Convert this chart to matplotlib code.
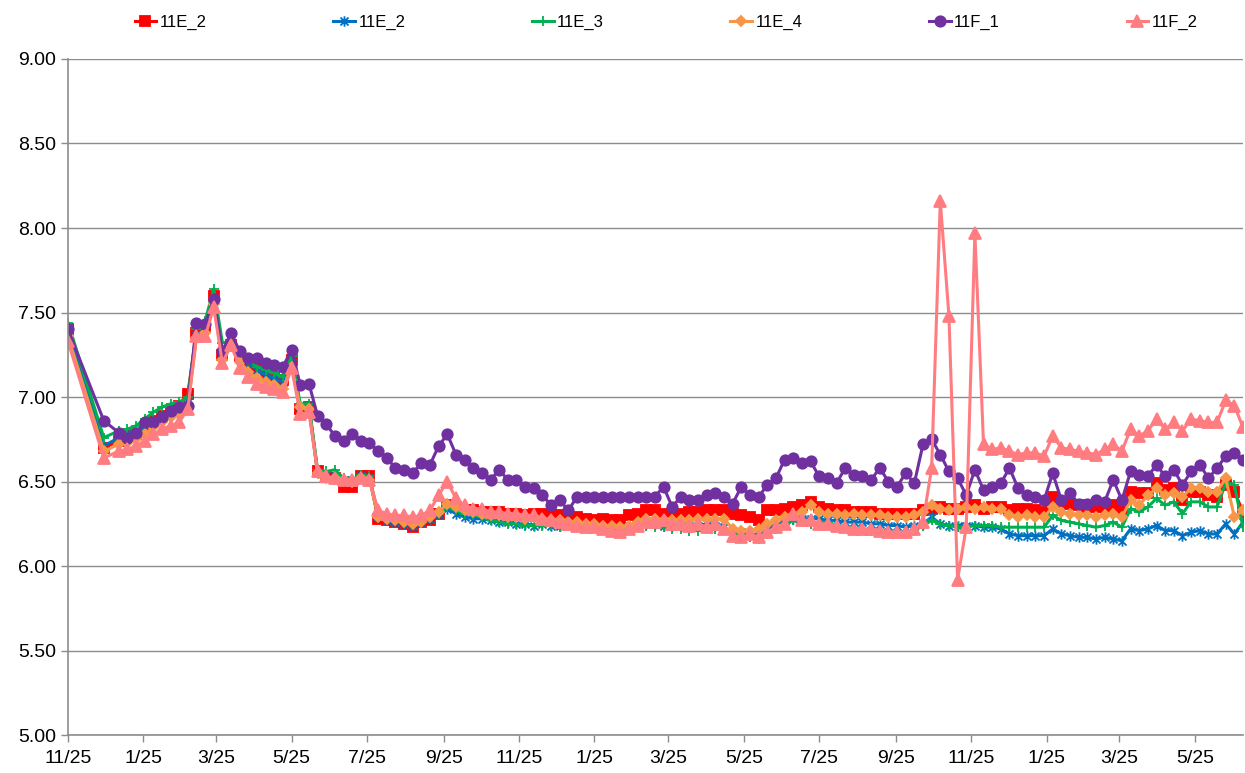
import numpy as np
import pandas as pd
import matplotlib
matplotlib.use('agg')
import matplotlib.pyplot as plt
from matplotlib.path import Path
from matplotlib.ticker import FormatStrFormatter

plt.rcParams['font.family'] = ['Liberation Sans', 'DejaVu Sans']

# sample dates: first two irregular, then weekly
dates = list(pd.to_datetime(['2010-11-25', '2010-12-24'])) + \
    list(pd.date_range('2011-01-05', periods=131, freq='7D'))

s_11e_2a = [7.40, 6.70, 6.74, 6.77, 6.78, 6.82, 6.86, 6.89, 6.92, 6.95, 7.02, 7.38, 7.42, 7.60, 7.25, 7.31, 7.24, 7.20, 7.17, 7.14, 7.12, 7.10, 7.22, 6.93, 6.94,
            6.56, 6.53, 6.52, 6.47, 6.47, 6.53, 6.53, 6.28, 6.27, 6.26, 6.25, 6.23, 6.26, 6.27, 6.31, 6.36, 6.35, 6.33, 6.33, 6.32,
            6.32, 6.32, 6.31, 6.31, 6.30, 6.31, 6.31, 6.30, 6.30, 6.29, 6.29, 6.28, 6.27, 6.28, 6.27, 6.27, 6.30, 6.31,
            6.33, 6.33, 6.31, 6.31, 6.31, 6.32, 6.32, 6.33, 6.33, 6.33, 6.31, 6.30, 6.29, 6.27, 6.33, 6.33, 6.34, 6.35, 6.36, 6.38, 6.35, 6.34,
            6.33, 6.33, 6.32, 6.32, 6.32, 6.31, 6.31, 6.31, 6.31, 6.31, 6.33, 6.34, 6.35, 6.34, 6.34, 6.35, 6.36, 6.34, 6.35, 6.35,
            6.33, 6.34, 6.34, 6.33, 6.32, 6.41, 6.38, 6.37, 6.36, 6.35, 6.35, 6.35, 6.36, 6.34, 6.44, 6.43, 6.43, 6.49, 6.45, 6.46, 6.39, 6.44, 6.44, 6.42, 6.41, 6.48, 6.44, 6.32]

s_11e_2b = [7.41, 6.71, 6.76, 6.78, 6.79, 6.82, 6.86, 6.89, 6.92, 6.94, 6.97, 7.37, 7.40, 7.58, 7.26, 7.30, 7.24, 7.20, 7.16, 7.13, 7.11, 7.09, 7.20, 6.95, 6.95,
            6.55, 6.53, 6.53, 6.51, 6.51, 6.53, 6.52, 6.29, 6.27, 6.26, 6.25, 6.24, 6.26, 6.28, 6.31, 6.34, 6.31, 6.29, 6.28, 6.28,
            6.27, 6.26, 6.26, 6.25, 6.25, 6.24, 6.25, 6.24, 6.24, 6.25, 6.24, 6.24, 6.24, 6.23, 6.23, 6.23, 6.24, 6.25,
            6.25, 6.25, 6.24, 6.24, 6.24, 6.24, 6.24, 6.25, 6.24, 6.23, 6.20, 6.20, 6.19, 6.18, 6.22, 6.25, 6.27, 6.28, 6.28, 6.28, 6.28, 6.27,
            6.27, 6.26, 6.26, 6.26, 6.25, 6.25, 6.24, 6.24, 6.23, 6.24, 6.25, 6.29, 6.25, 6.24, 6.24, 6.24, 6.24, 6.23, 6.23, 6.22,
            6.19, 6.18, 6.18, 6.18, 6.18, 6.22, 6.19, 6.18, 6.17, 6.17, 6.16, 6.17, 6.16, 6.15, 6.22, 6.21, 6.22, 6.24, 6.21, 6.21, 6.18, 6.20, 6.21, 6.19, 6.19, 6.25, 6.19, 6.26]

s_11e_3 = [7.44, 6.76, 6.80, 6.81, 6.83, 6.87, 6.91, 6.94, 6.96, 6.97, 7.00, 7.40, 7.45, 7.64, 7.32, 7.33, 7.26, 7.22, 7.18, 7.16, 7.14, 7.12, 7.24, 6.96, 6.96,
           6.57, 6.56, 6.57, 6.52, 6.51, 6.54, 6.53, 6.30, 6.28, 6.27, 6.26, 6.25, 6.27, 6.29, 6.31, 6.35, 6.33, 6.31, 6.30, 6.29,
           6.27, 6.26, 6.25, 6.25, 6.24, 6.24, 6.24, 6.24, 6.23, 6.24, 6.23, 6.23, 6.23, 6.23, 6.22, 6.23, 6.23, 6.24,
           6.24, 6.23, 6.23, 6.22, 6.22, 6.21, 6.21, 6.22, 6.22, 6.22, 6.19, 6.18, 6.17, 6.16, 6.19, 6.22, 6.25, 6.27, 6.26, 6.25, 6.26, 6.26,
           6.24, 6.23, 6.22, 6.22, 6.21, 6.21, 6.20, 6.20, 6.20, 6.21, 6.24, 6.27, 6.25, 6.24, 6.23, 6.23, 6.24, 6.24, 6.24, 6.23,
           6.23, 6.23, 6.23, 6.23, 6.23, 6.30, 6.27, 6.26, 6.25, 6.24, 6.23, 6.24, 6.26, 6.23, 6.34, 6.32, 6.35, 6.40, 6.36, 6.38, 6.31, 6.38, 6.38, 6.35, 6.35, 6.49, 6.48, 6.23]

s_11e_4 = [7.36, 6.68, 6.72, 6.73, 6.75, 6.78, 6.82, 6.85, 6.88, 6.90, 6.94, 7.35, 7.38, 7.55, 7.22, 7.30, 7.21, 7.15, 7.11, 7.09, 7.07, 7.05, 7.18, 6.94, 6.93,
           6.55, 6.52, 6.52, 6.51, 6.50, 6.52, 6.51, 6.29, 6.28, 6.27, 6.26, 6.25, 6.26, 6.29, 6.32, 6.37, 6.35, 6.33, 6.32, 6.31,
           6.30, 6.30, 6.29, 6.29, 6.28, 6.29, 6.28, 6.27, 6.27, 6.26, 6.26, 6.25, 6.25, 6.24, 6.24, 6.23, 6.24, 6.26,
           6.28, 6.28, 6.27, 6.27, 6.27, 6.27, 6.28, 6.28, 6.28, 6.28, 6.22, 6.21, 6.21, 6.22, 6.25, 6.27, 6.29, 6.30, 6.32, 6.36, 6.32, 6.31,
           6.31, 6.30, 6.31, 6.30, 6.30, 6.30, 6.29, 6.29, 6.29, 6.30, 6.32, 6.36, 6.34, 6.33, 6.34, 6.35, 6.34, 6.35, 6.34, 6.34,
           6.30, 6.29, 6.30, 6.29, 6.29, 6.35, 6.32, 6.31, 6.30, 6.30, 6.29, 6.30, 6.31, 6.29, 6.39, 6.36, 6.42, 6.46, 6.42, 6.43, 6.41, 6.46, 6.46, 6.44, 6.44, 6.52, 6.29, 6.33]

s_11f_1 = [7.40, 6.86, 6.79, 6.76, 6.79, 6.85, 6.85, 6.88, 6.92, 6.94, 6.95, 7.44, 7.43, 7.58, 7.27, 7.38, 7.27, 7.23, 7.23, 7.20, 7.19, 7.18, 7.28, 7.07, 7.08,
           6.89, 6.84, 6.77, 6.74, 6.78, 6.74, 6.73, 6.68, 6.64, 6.58, 6.57, 6.55, 6.61, 6.60, 6.71, 6.78, 6.66, 6.63, 6.58, 6.55,
           6.51, 6.57, 6.51, 6.51, 6.47, 6.46, 6.42, 6.36, 6.39, 6.33, 6.41, 6.41, 6.41, 6.41, 6.41, 6.41, 6.41, 6.41,
           6.41, 6.41, 6.47, 6.35, 6.41, 6.39, 6.39, 6.42, 6.43, 6.41, 6.37, 6.47, 6.42, 6.41, 6.48, 6.52, 6.63, 6.64, 6.61, 6.62, 6.53, 6.52,
           6.49, 6.58, 6.54, 6.53, 6.51, 6.58, 6.50, 6.47, 6.55, 6.49, 6.72, 6.75, 6.66, 6.56, 6.52, 6.42, 6.57, 6.45, 6.47, 6.49,
           6.58, 6.46, 6.42, 6.41, 6.39, 6.55, 6.39, 6.43, 6.37, 6.37, 6.39, 6.38, 6.51, 6.39, 6.56, 6.54, 6.53, 6.60, 6.53, 6.57, 6.48, 6.56, 6.60, 6.52, 6.58, 6.65, 6.67, 6.63]

s_11f_2 = [7.33, 6.64, 6.68, 6.69, 6.71, 6.74, 6.78, 6.81, 6.83, 6.85, 6.93, 7.36, 7.36, 7.53, 7.20, 7.31, 7.17, 7.12, 7.08, 7.06, 7.05, 7.03, 7.17, 6.90, 6.91,
           6.56, 6.53, 6.52, 6.51, 6.51, 6.52, 6.51, 6.33, 6.31, 6.30, 6.30, 6.29, 6.30, 6.33, 6.42, 6.50, 6.40, 6.36, 6.34, 6.34,
           6.32, 6.32, 6.31, 6.31, 6.30, 6.30, 6.28, 6.27, 6.26, 6.25, 6.24, 6.23, 6.23, 6.22, 6.21, 6.20, 6.22, 6.24,
           6.26, 6.26, 6.27, 6.25, 6.25, 6.24, 6.25, 6.23, 6.25, 6.22, 6.18, 6.17, 6.19, 6.17, 6.20, 6.23, 6.25, 6.31, 6.27, 6.27, 6.25, 6.25,
           6.24, 6.23, 6.22, 6.22, 6.22, 6.21, 6.20, 6.20, 6.20, 6.22, 6.26, 6.58, 8.16, 7.48, 5.92, 6.23, 7.97, 6.72, 6.69, 6.70,
           6.68, 6.66, 6.67, 6.67, 6.65, 6.77, 6.70, 6.69, 6.68, 6.67, 6.66, 6.69, 6.72, 6.68, 6.81, 6.77, 6.80, 6.87, 6.81, 6.85, 6.80, 6.87, 6.86, 6.85, 6.85, 6.98, 6.95, 6.82]

labels = ['11E_2', '11E_2', '11E_3', '11E_4', '11F_1', '11F_2']
colors = ['#FF0000', '#0070C0', '#00B050', '#F79646', '#7030A0', '#FF7C80']

# excel style "star" marker: x with a vertical bar
star = Path([(-1, -1), (1, 1), (-1, 1), (1, -1), (0, -1.3), (0, 1.3)],
            [Path.MOVETO, Path.LINETO, Path.MOVETO, Path.LINETO, Path.MOVETO, Path.LINETO])
markers = ['s', star, '+', 'D', 'o', '^']
msizes = [6.5, 7.5, 7, 5, 7.5, 8]

fig = plt.figure(figsize=(12.45, 7.73), dpi=100)
ax = fig.add_axes([0.0546, 0.049, 0.9438, 0.8747])

series = [s_11e_2a, s_11e_2b, s_11e_3, s_11e_4, s_11f_1, s_11f_2]
for vals, lab, col, mk, ms in zip(series, labels, colors, markers, msizes):
    ax.plot(dates, vals, color=col, lw=2.2, marker=mk, ms=ms, mew=1.3,
            mfc=col, mec=col, label=lab)

ax.set_ylim(5.0, 9.0)
ax.set_yticks(np.arange(5.0, 9.01, 0.5))
ax.yaxis.set_major_formatter(FormatStrFormatter('%.2f'))
ax.set_xlim(dates[0], dates[-1])
ticks = pd.date_range('2010-11-25', periods=16, freq=pd.DateOffset(months=2))
ax.set_xticks(ticks)
ax.set_xticklabels([f"{d.month}/{d.day}" for d in ticks])

ax.yaxis.grid(True, color='#8c8c8c', lw=1)
ax.set_axisbelow(True)
for s in ['top', 'right']:
    ax.spines[s].set_visible(False)
for s in ['left', 'bottom']:
    ax.spines[s].set_color('#8c8c8c')
    ax.spines[s].set_linewidth(1.2)
ax.tick_params(axis='both', colors='#8c8c8c', labelcolor='black',
               labelsize=14, length=5, width=1)
ax.tick_params(axis='x', pad=6)

fig.legend(loc='upper center', bbox_to_anchor=(0.535, 1.0), ncol=6,
           frameon=False, fontsize=12, handlelength=1.3, handletextpad=0.2,
           columnspacing=7.6)

fig.savefig('out.png', dpi=100)
